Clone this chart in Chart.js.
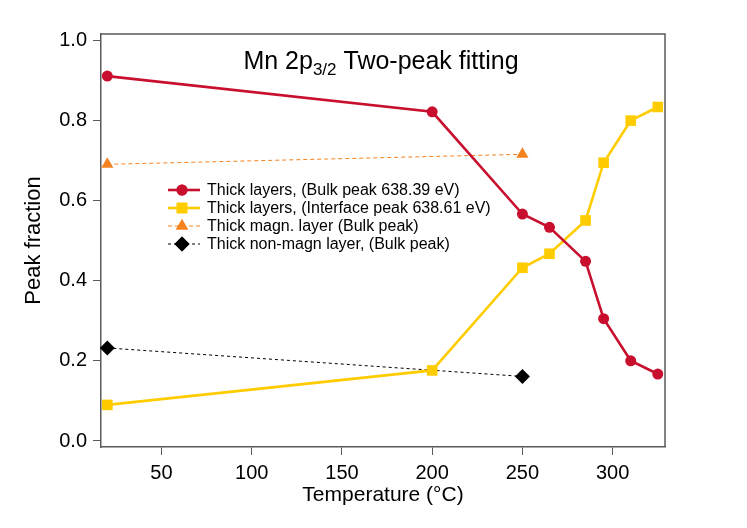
<!DOCTYPE html>
<html>
<head>
<meta charset="utf-8">
<script src="https://cdn.jsdelivr.net/npm/chart.js@4/dist/chart.umd.min.js"></script>
<style>
  html, body { margin: 0; padding: 0; background: #fff; }
  #wrap { width: 747px; height: 528px; }
</style>
</head>
<body>
<div id="wrap"><canvas id="line-chart" width="747" height="528"></canvas></div>
<script>
// data
const tempThick = [20, 200, 250, 265, 285, 295, 310, 325];
const bulkPeak = [0.910, 0.821, 0.566, 0.533, 0.448, 0.305, 0.200, 0.167];
const interfacePeak = [0.090, 0.176, 0.432, 0.467, 0.550, 0.694, 0.799, 0.833];
const tempSingle = [20, 250];
const magnBulk = [0.690, 0.715];
const nonMagnBulk = [0.232, 0.161];
const xTicks = [50, 100, 150, 200, 250, 300];
const yTicks = [0.0, 0.2, 0.4, 0.6, 0.8, 1.0];
const labels = [
  'Thick layers, (Bulk peak 638.39 eV)',
  'Thick layers, (Interface peak 638.61 eV)',
  'Thick magn. layer (Bulk peak)',
  'Thick non-magn layer, (Bulk peak)'
];

const FONT = 'Arial, "Liberation Sans", sans-serif';
const RED = '#c8102e', YEL = '#ffcc00', ORA = '#f5821f', BLK = '#000000';
const AXIS = '#5a5a5a';

function pts(xs, ys) {
  return xs.map((x, i) => ({ x: x, y: ys[i] }));
}

const datasets = [
  { label: labels[0], data: pts(tempThick, bulkPeak), borderColor: RED, backgroundColor: RED,
    borderWidth: 2.6, pointStyle: 'circle', pointRadius: 5.5 },
  { label: labels[1], data: pts(tempThick, interfacePeak), borderColor: YEL, backgroundColor: YEL,
    borderWidth: 2.6, pointStyle: 'rect', pointRadius: 7.5 },
  { label: labels[2], data: pts(tempSingle, magnBulk), borderColor: ORA, backgroundColor: ORA,
    borderWidth: 1, borderDash: [4, 3], pointStyle: 'triangle', pointRadius: 7 },
  { label: labels[3], data: pts(tempSingle, nonMagnBulk), borderColor: BLK, backgroundColor: BLK,
    borderWidth: 1, borderDash: [3, 3], pointStyle: 'rectRot', pointRadius: 7.5 }
];
datasets.forEach(d => { d.pointBorderWidth = 0; d.pointHoverRadius = d.pointRadius; d.tension = 0; d.clip = false; });

const deco = {
  id: 'deco',
  afterDraw(chart) {
    const ctx = chart.ctx, a = chart.chartArea;
    ctx.save();
    // top and right frame
    ctx.strokeStyle = AXIS; ctx.lineWidth = 1.5;
    ctx.beginPath();
    ctx.moveTo(a.left, a.top); ctx.lineTo(a.right, a.top); ctx.lineTo(a.right, a.bottom);
    ctx.stroke();

    // title with subscript
    ctx.fillStyle = '#000';
    ctx.textBaseline = 'alphabetic';
    const big = '25px ' + FONT, small = '17px ' + FONT;
    const p1 = 'Mn 2p', sub = '3/2', p2 = ' Two-peak fitting';
    ctx.font = big; const w1 = ctx.measureText(p1).width, w3 = ctx.measureText(p2).width;
    ctx.font = small; const w2 = ctx.measureText(sub).width;
    let x = 381 - (w1 + w2 + w3) / 2, y = 69;
    ctx.font = big; ctx.fillText(p1, x, y); x += w1;
    ctx.font = small; ctx.fillText(sub, x, y + 6); x += w2;
    ctx.font = big; ctx.fillText(p2, x, y);

    // legend inside the plot
    ctx.font = '16px ' + FONT;
    ctx.textBaseline = 'middle';
    chart.data.datasets.forEach((d, i) => {
      const ly = 190 + i * 18, lx = 168;
      ctx.strokeStyle = d.borderColor; ctx.lineWidth = d.borderWidth;
      ctx.setLineDash(d.borderDash || []);
      ctx.beginPath(); ctx.moveTo(lx, ly); ctx.lineTo(lx + 32, ly); ctx.stroke();
      ctx.setLineDash([]);
      ctx.fillStyle = d.backgroundColor;
      ctx.beginPath();
      Chart.helpers.drawPoint(ctx, { pointStyle: d.pointStyle, radius: d.pointRadius, borderWidth: 0, rotation: 0 }, lx + 14, ly);
      ctx.fill();
      ctx.fillStyle = '#000';
      ctx.fillText(d.label, 207, ly + 1);
    });
    ctx.restore();
  }
};

new Chart(document.getElementById('line-chart'), {
  type: 'line',
  data: { datasets: datasets },
  plugins: [deco],
  options: {
    responsive: false,
    animation: false,
    layout: { padding: { top: 34, right: 82, left: 20, bottom: 20 } },
    plugins: { legend: { display: false }, tooltip: { enabled: false } },
    scales: {
      x: {
        type: 'linear', min: 16.5, max: 329,
        afterBuildTicks: s => { s.ticks = xTicks.map(v => ({ value: v })); },
        afterFit: s => { s.height = 61; },
        grid: { drawOnChartArea: false, drawTicks: true, tickLength: 8, color: AXIS, lineWidth: 1 },
        border: { color: AXIS, width: 1.5 },
        ticks: { color: '#000', font: { size: 20, family: FONT }, padding: 6, maxRotation: 0 },
        title: { display: true, text: 'Temperature (°C)', color: '#000', font: { size: 21, family: FONT }, padding: { top: 0, bottom: 0 } }
      },
      y: {
        type: 'linear', min: -0.015, max: 1.015,
        afterBuildTicks: s => { s.ticks = yTicks.map(v => ({ value: v })); },
        afterFit: s => { s.width = 81; },
        grid: { drawOnChartArea: false, drawTicks: true, tickLength: 8, color: AXIS, lineWidth: 1 },
        border: { color: AXIS, width: 1.5 },
        ticks: { color: '#000', font: { size: 20, family: FONT }, padding: 6, callback: v => v.toFixed(1) },
        title: { display: true, text: 'Peak fraction', color: '#000', font: { size: 22, family: FONT }, padding: { top: 1, bottom: 4 } }
      }
    }
  }
});
</script>
</body>
</html>
